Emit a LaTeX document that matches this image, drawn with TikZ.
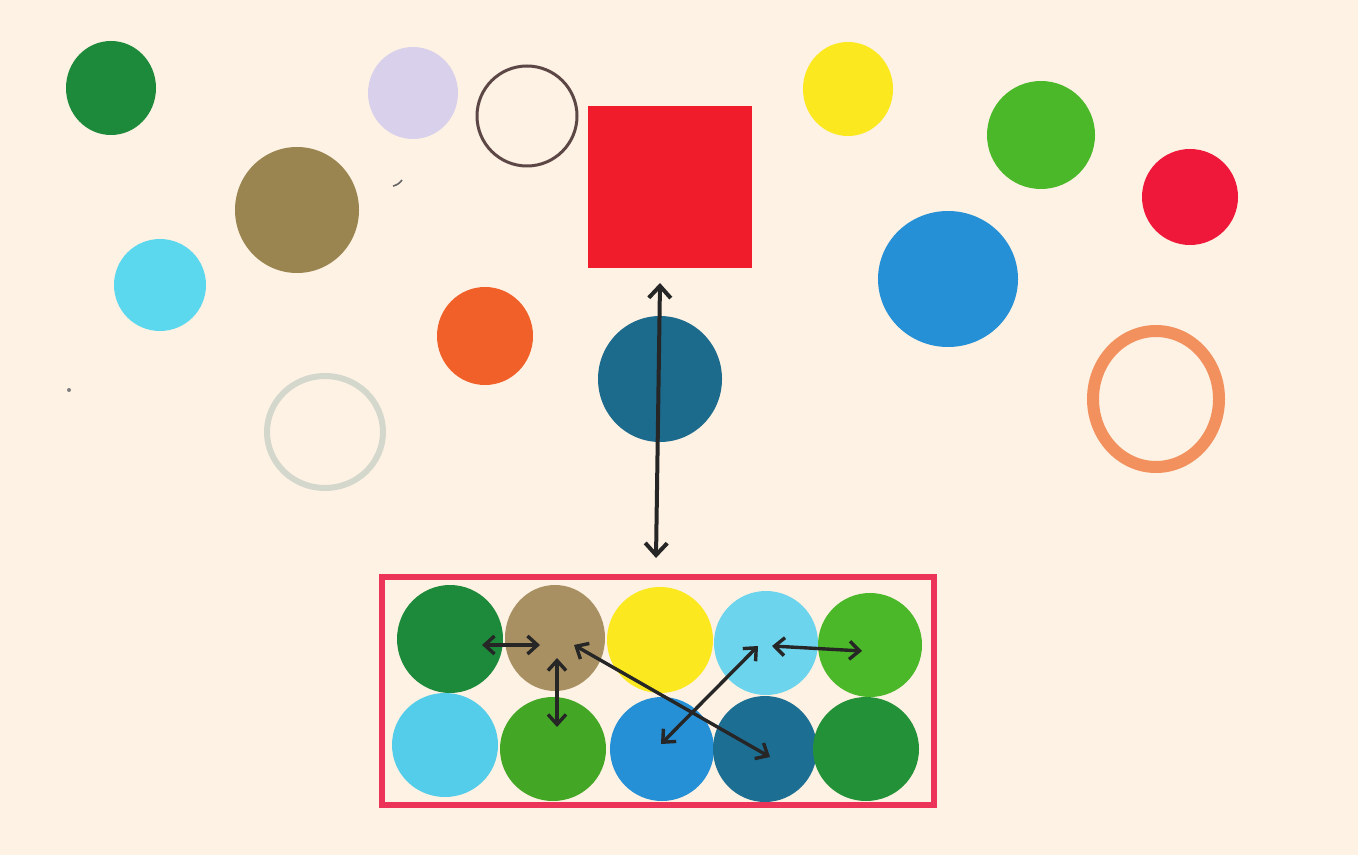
\documentclass[tikz,border=0pt]{standalone}
\usetikzlibrary{shapes.geometric,arrows.meta}
\definecolor{bg}{HTML}{FDF2E3}
\definecolor{dkgreen}{HTML}{1C8A3A}
\definecolor{lavender}{HTML}{D9D1EC}
\definecolor{ringbrown}{HTML}{5C4646}
\definecolor{olive}{HTML}{9A8450}
\definecolor{skycyan}{HTML}{5CD8EE}
\definecolor{orangefill}{HTML}{F2602A}
\definecolor{ringgrey}{HTML}{D4D7CC}
\definecolor{sqred}{HTML}{F01C2C}
\definecolor{teal}{HTML}{1C6A8C}
\definecolor{yel}{HTML}{FBE81E}
\definecolor{lgreen}{HTML}{4AB828}
\definecolor{pinkred}{HTML}{F0183A}
\definecolor{blu}{HTML}{2690D6}
\definecolor{ringorange}{HTML}{F2905E}
\definecolor{boxred}{HTML}{EC3358}
\definecolor{khaki}{HTML}{A89062}
\definecolor{lcyan}{HTML}{6CD4EC}
\definecolor{ink}{HTML}{262626}
\tikzset{
  blob/.style={ellipse, inner sep=0pt, draw=none},
  ring/.style={ellipse, inner sep=0pt, fill=none},
  arr/.style={draw=ink, line width=1.7pt, line cap=round,
    {Straight Barb[length=5pt,width=9pt]}-{Straight Barb[length=5pt,width=9pt]}},
  bigarr/.style={draw=ink, line width=2pt, line cap=round,
    {Straight Barb[length=6pt,width=11pt]}-{Straight Barb[length=6pt,width=11pt]}}
}
\begin{document}
\begin{tikzpicture}[x=0.5pt,y=-0.5pt]
\fill[bg] (0,0) rectangle (1358,855);
\useasboundingbox (0,0) rectangle (1358,855);
% scattered shapes
\node[blob, fill=dkgreen, minimum width=45pt, minimum height=47pt] (c1) at (111,88) {};
\node[blob, fill=lavender, minimum width=45pt, minimum height=46pt] (c2) at (413,93) {};
\node[ring, draw=ringbrown, line width=1.5pt, minimum width=50pt, minimum height=50pt] (c3) at (527,116) {};
\node[blob, fill=olive, minimum width=62pt, minimum height=63pt] (c4) at (297,210) {};
\node[blob, fill=skycyan, minimum width=46pt, minimum height=46pt] (c5) at (160,285) {};
\node[blob, fill=orangefill, minimum width=48pt, minimum height=49pt] (c6) at (485,336) {};
\node[ring, draw=ringgrey, line width=3pt, minimum width=58pt, minimum height=56pt] (c7) at (325,432) {};
\node[rectangle, fill=sqred, inner sep=0pt, minimum width=82pt, minimum height=81pt] (sq) at (670,187) {};
\node[blob, fill=teal, minimum width=62pt, minimum height=63pt] (c8) at (660,379) {};
\node[blob, fill=yel, minimum width=45pt, minimum height=47pt] (c9) at (848,89) {};
\node[blob, fill=lgreen, minimum width=54pt, minimum height=54pt] (c10) at (1041,135) {};
\node[blob, fill=pinkred, minimum width=48pt, minimum height=48pt] (c11) at (1190,197) {};
\node[blob, fill=blu, minimum width=70pt, minimum height=68pt] (c12) at (948,279) {};
\node[ring, draw=ringorange, line width=6pt, minimum width=63pt, minimum height=68pt] (c13) at (1156,399) {};
% small specks
\node[blob, fill=gray, minimum width=2pt, minimum height=2pt] (s1) at (69,390) {};
\draw[gray!80!black, line width=0.8pt] (393,186) to[bend right=20] (402,180);
% vertical arrow
\coordinate (vt) at (660,283);
\coordinate (vb) at (656,558);
\draw[bigarr] (vt) -- (vb);
% box
\node[rectangle, draw=boxred, line width=3pt, inner sep=0pt, minimum width=276pt, minimum height=114pt] (box) at (658,691) {};
% grid circles
\node[blob, fill=dkgreen, minimum width=53pt, minimum height=54pt] (g11) at (450,639) {};
\node[blob, fill=khaki, minimum width=50pt, minimum height=53pt] (g12) at (555,638) {};
\node[blob, fill=yel, minimum width=53pt, minimum height=53pt] (g13) at (660,640) {};
\node[blob, fill=lcyan, minimum width=52pt, minimum height=52pt] (g14) at (766,643) {};
\node[blob, fill=lgreen, minimum width=52pt, minimum height=52pt] (g15) at (870,645) {};
\node[blob, fill=skycyan!85!blu, minimum width=53pt, minimum height=52pt] (g21) at (445,745) {};
\node[blob, fill=lgreen!90!black, minimum width=53pt, minimum height=52pt] (g22) at (553,749) {};
\node[blob, fill=blu, minimum width=52pt, minimum height=52pt] (g23) at (662,749) {};
\node[blob, fill=teal!90!blu, minimum width=52pt, minimum height=53pt] (g24) at (765,749) {};
\node[blob, fill=dkgreen!85!lgreen, minimum width=53pt, minimum height=52pt] (g25) at (866,749) {};
% grid arrows
\coordinate (a1) at (482,645);
\coordinate (a2) at (540,645);
\coordinate (b1) at (557,658);
\coordinate (b2) at (557,727);
\coordinate (d1) at (574,645);
\coordinate (d2) at (770,757);
\coordinate (e1) at (661,744);
\coordinate (e2) at (758,646);
\coordinate (f1) at (772,646);
\coordinate (f2) at (862,651);
\draw[arr] (a1) -- (a2);
\draw[arr] (b1) -- (b2);
\draw[arr] (d1) -- (d2);
\draw[arr] (e1) -- (e2);
\draw[arr] (f1) -- (f2);
\end{tikzpicture}
\end{document}
